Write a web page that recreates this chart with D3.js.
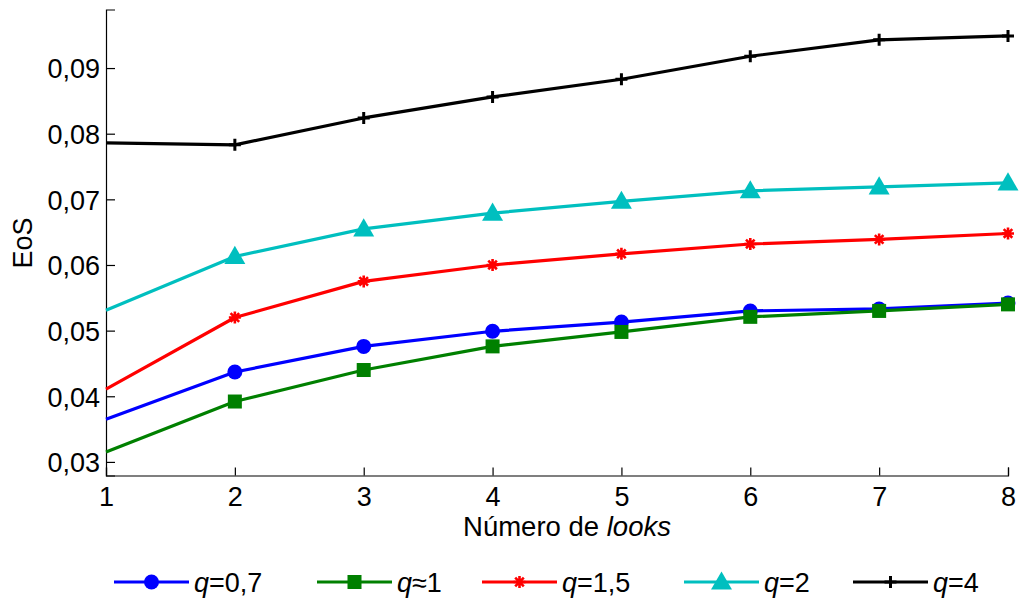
<!DOCTYPE html>
<html><head><meta charset="utf-8">
<script src="https://cdn.jsdelivr.net/npm/d3@7"></script>
<style>body{margin:0;background:#fff;} svg{display:block;font-family:"Liberation Sans",Arial,sans-serif;}</style>
</head><body>
<script>
const looks = [1,2,3,4,5,6,7,8];
const xTicks = [1,2,3,4,5,6,7,8];
const yTicks = [0.03,0.04,0.05,0.06,0.07,0.08,0.09];
const seriesNames = ["=0,7","≈1","=1,5","=2","=4"];
const seriesColors = ["#0000ff","#008000","#ff0000","#00bfbf","#000000"];
const seriesMarkers = ["circle","square","asterisk","triangle","plus"];
const q07 = [0.0365,0.0437,0.0476,0.0499,0.0513,0.0530,0.0533,0.0542];
const q1  = [0.0315,0.0392,0.0440,0.0476,0.0498,0.0521,0.0530,0.0540];
const q15 = [0.0411,0.0520,0.0575,0.0600,0.0617,0.0632,0.0639,0.0648];
const q2  = [0.0531,0.0613,0.0655,0.0679,0.0697,0.0713,0.0719,0.0725];
const q4  = [0.0786,0.0783,0.0824,0.0856,0.0883,0.0918,0.0943,0.0949];
const seriesValues = [q07,q1,q15,q2,q4];

const W=1024,H=599;
const L=106,R=1008,T=9.5,B=475.5;
const svg=d3.select("body").append("svg").attr("width",W).attr("height",H);
const x=d3.scaleLinear().domain([1,8]).range([L,R]);
const y=d3.scaleLinear().domain([0.02793,0.09892]).range([B,T]);
const fmt=v=>d3.format(".2f")(v).replace(".",",");
const FS=27;

// axes
const xa=svg.append("g").attr("transform",`translate(0,${B})`)
  .call(d3.axisBottom(x).tickValues(xTicks).tickSize(-8).tickPadding(11).tickFormat(d3.format("d")));
const ya=svg.append("g").attr("transform",`translate(${L},0)`)
  .call(d3.axisLeft(y).tickValues(yTicks).tickSize(-9).tickPadding(6).tickFormat(fmt));
[xa,ya].forEach(g=>{
  g.select(".domain").attr("stroke","#000").attr("stroke-width",1.2);
  g.selectAll(".tick line").attr("stroke","#000").attr("stroke-width",1.2);
  g.selectAll(".tick text").attr("fill","#000").attr("font-size",FS).attr("font-family","Liberation Sans, Arial, sans-serif");
});
ya.selectAll(".tick text").attr("dy","0.36em");
xa.selectAll(".tick text").attr("dy","0.72em");

// labels
svg.append("text").attr("x",567).attr("y",536).attr("text-anchor","middle").attr("font-size",27.5)
  .html('Número de <tspan font-style="italic">looks</tspan>');
svg.append("text").attr("transform","translate(32,243) rotate(-90)").attr("text-anchor","middle").attr("font-size",FS).text("EoS");

function marker(g,type,color){
  if(type==="circle") g.append("circle").attr("r",7.5).attr("fill",color);
  else if(type==="square") g.append("rect").attr("x",-7).attr("y",-7).attr("width",14).attr("height",14).attr("fill",color);
  else if(type==="triangle") g.append("path").attr("d",d3.symbol(d3.symbolTriangle,190)()).attr("transform","translate(0,1.5)").attr("fill",color);
  else if(type==="plus") g.append("path").attr("d","M-6,0H6M0,-6V6").attr("stroke",color).attr("stroke-width",3);
  else if(type==="asterisk") g.append("path").attr("d","M-6,0H6M0,-6V6M-4.3,-4.3L4.3,4.3M-4.3,4.3L4.3,-4.3").attr("stroke",color).attr("stroke-width",2.6);
}

const line=d3.line().x((d,i)=>x(looks[i])).y(d=>y(d));
seriesValues.forEach((vals,si)=>{
  const c=seriesColors[si];
  svg.append("path").datum(vals).attr("d",line).attr("fill","none").attr("stroke",c).attr("stroke-width",3.2).attr("stroke-linejoin","round");
  vals.forEach((v,i)=>{ if(i===0) return;
    marker(svg.append("g").attr("transform",`translate(${x(looks[i])},${y(v)})`),seriesMarkers[si],c);
  });
});

// legend
const legX=[114,317,482,684,853];
seriesNames.forEach((n,si)=>{
  const c=seriesColors[si], lx=legX[si], ly=582;
  svg.append("line").attr("x1",lx).attr("x2",lx+75).attr("y1",ly).attr("y2",ly).attr("stroke",c).attr("stroke-width",3.2);
  marker(svg.append("g").attr("transform",`translate(${lx+37.5},${ly})`),seriesMarkers[si],c);
  svg.append("text").attr("x",lx+80).attr("y",ly+9.5).attr("font-size",FS)
    .html(`<tspan font-style="italic">q</tspan>${n}`);
});
</script>
</body></html>
